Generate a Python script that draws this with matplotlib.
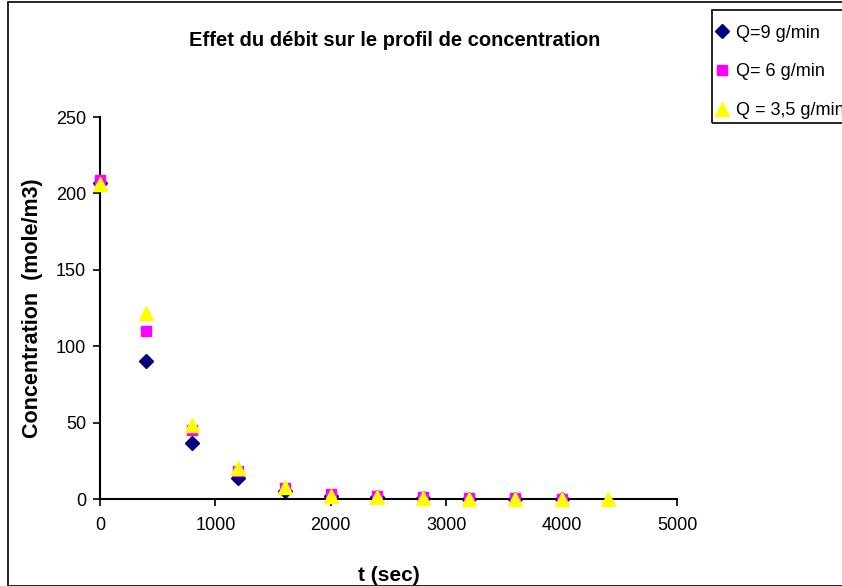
import matplotlib.pyplot as plt
from matplotlib.patches import Rectangle

plt.rcParams['font.family'] = ['Liberation Sans', 'DejaVu Sans']

t_9 = [0, 400, 800, 1200, 1600, 2000, 2400, 2800, 3200, 3600, 4000]
c_9 = [207, 90, 36.5, 14, 5, 2, 1, 0.5, 0.3, 0.2, 0.1]
t_6 = [0, 400, 800, 1200, 1600, 2000, 2400, 2800, 3200, 3600, 4000]
c_6 = [209, 110, 45, 18, 7, 3, 2, 1, 0.5, 0.4, 0.3]
t_35 = [0, 400, 800, 1200, 1600, 2000, 2400, 2800, 3200, 3600, 4000, 4400]
c_35 = [206, 122, 48.5, 20, 8, 2, 1, 0.5, 0.3, 0.2, 0.1, 0]

fig = plt.figure(figsize=(8.42, 5.86), dpi=100)
ax = fig.add_axes([100/842, 87/586, 577/842, 382/586])

ax.plot(t_9, c_9, 'D', color='#000080', ms=7, ls='none', label='Q=9 g/min', clip_on=False, zorder=3)
ax.plot(t_6, c_6, 's', color='#FF00FF', ms=7.5, ls='none', label='Q= 6 g/min', clip_on=False, zorder=3)
ax.plot(t_35, c_35, '^', color='#FFFF00', ms=9.5, ls='none', label='Q = 3,5 g/min', clip_on=False, zorder=4)

ax.set_xlim(0, 5000)
ax.set_ylim(0, 250)
ax.set_xticks(range(0, 5001, 1000))
ax.set_yticks(range(0, 251, 50))
ax.spines['top'].set_visible(False)
ax.spines['right'].set_visible(False)
for s in ['left', 'bottom']:
    ax.spines[s].set_linewidth(1.5)
ax.tick_params(direction='out', length=5, width=1.2, labelsize=13)
ax.tick_params(axis='x', pad=8)
ax.tick_params(axis='y', pad=5)

ax.set_xlabel('t (sec)', fontsize=15, fontweight='bold', labelpad=23)
ax.set_ylabel('Concentration  (mole/m3)', fontsize=15.5, fontweight='bold', labelpad=9)
fig.text(395/842, 1 - 40/586, 'Effet du débit sur le profil de concentration',
         ha='center', va='center', fontsize=14.5, fontweight='bold')

# outer chart frame
fig.patches.append(Rectangle((8/842, 0), 1, 1 - 2/586, transform=fig.transFigure,
                             fill=False, ec='black', lw=1.2))
# legend box
fig.patches.append(Rectangle((712/842, 1 - 123/586), 0.2, 113/586, transform=fig.transFigure,
                             fill=False, ec='black', lw=1.2, zorder=5))

leg = fig.legend(loc='upper left', bbox_to_anchor=(710/842, 1 - 21/586), frameon=False,
                 fontsize=13, handletextpad=0.35, borderpad=0.2, labelspacing=1.2,
                 handlelength=0.9, borderaxespad=0)

fig.savefig('out.png', dpi=100)
